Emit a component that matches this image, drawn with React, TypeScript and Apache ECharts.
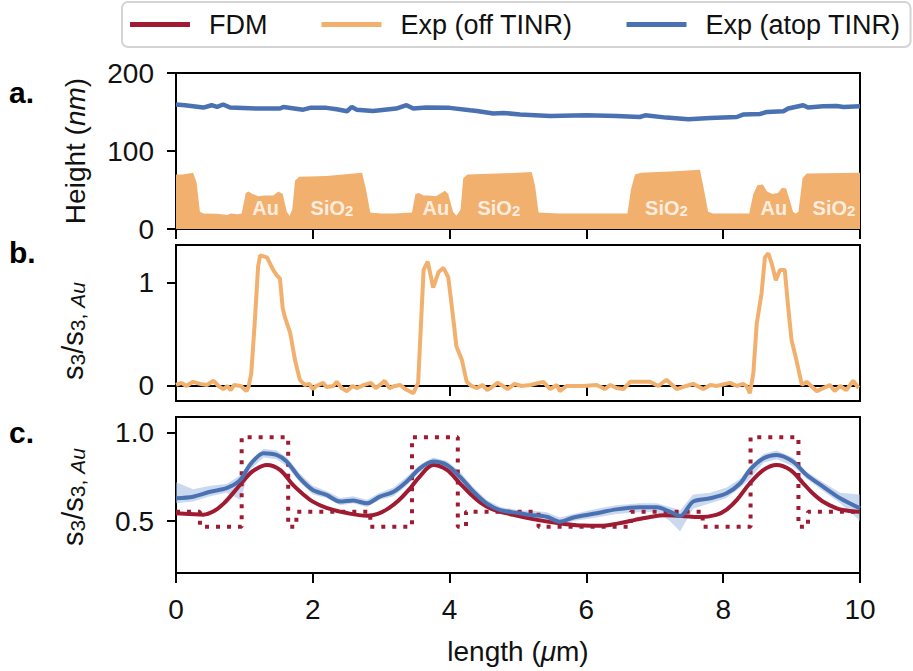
import React, { useEffect, useRef } from "react";
import * as echarts from "echarts";

const FONT = '"Liberation Sans", Arial, sans-serif';

const RED = "#9e1b32";
const ORANGE = "#f2b06e";
const BLUE = "#4a72b2";
const BAND = "rgba(160,185,225,0.55)";

// (a) topography, nm
const heightOff: [number, number][] = [
  [0, 70], [0.1, 70], [0.25, 72], [0.3, 60], [0.35, 22], [0.4, 20], [0.6, 19.5], [0.75, 18], [0.8, 20],
  [0.9, 19], [0.96, 20], [1.02, 46], [1.06, 48], [1.12, 45], [1.2, 42], [1.3, 43], [1.42, 43], [1.5, 48],
  [1.56, 45], [1.62, 22], [1.66, 17], [1.7, 25], [1.74, 62], [1.8, 67], [2.2, 68], [2.72, 72], [2.78, 50],
  [2.84, 21], [3.0, 20], [3.2, 20], [3.45, 21], [3.5, 45], [3.55, 46], [3.62, 43], [3.7, 43], [3.8, 42],
  [3.88, 46], [3.93, 49], [3.98, 45], [4.05, 22], [4.1, 17], [4.16, 25], [4.2, 65], [4.26, 70], [4.7, 71],
  [5.2, 73], [5.25, 55], [5.3, 21], [5.6, 20], [6.0, 20], [6.6, 20], [6.65, 50], [6.71, 70], [6.8, 72],
  [7.3, 74], [7.66, 76], [7.72, 50], [7.78, 22], [7.85, 20], [8.38, 20], [8.44, 45], [8.5, 56], [8.58, 57],
  [8.64, 48], [8.72, 45], [8.8, 46], [8.86, 53], [8.92, 52], [8.98, 35], [9.02, 22], [9.06, 20], [9.1, 22],
  [9.16, 65], [9.22, 71], [10, 72],
];

const heightAtop: [number, number][] = [
  [0.0, 159.6], [0.13, 158.7], [0.4, 155.7], [0.52, 158.7], [0.6, 156.5], [0.69, 159.6], [0.79, 155.7],
  [1.18, 154.4], [1.52, 154.4], [1.57, 156.5], [1.86, 153], [1.96, 155.3], [2.2, 155.3], [2.35, 153.5],
  [2.5, 151], [2.57, 156.5], [2.64, 153], [2.88, 151.4], [3.22, 154.4], [3.37, 158.7], [3.47, 154.4],
  [3.66, 155.7], [4.0, 155.3], [4.3, 152.3], [4.4, 151.4], [4.64, 148], [4.79, 148.8], [5.03, 146.7],
  [5.25, 145.8], [5.47, 144.9], [6.0, 145.8], [6.44, 144.9], [6.78, 143.6], [6.86, 145.8], [7.17, 142.8],
  [7.49, 140.6], [7.81, 142.4], [8.2, 143.6], [8.29, 146.7], [8.54, 147.5], [8.64, 150.1], [8.88, 151],
  [8.95, 154.4], [9.17, 158.7], [9.24, 155.7], [9.46, 157.4], [9.66, 157.8], [9.76, 156.5], [10.0, 157.4],
];

// material tags in panel (a): [x, height, name]
const materials: [number, number, string][] = [
  [1.31, 27, "Au"], [2.28, 27, "SiO2"], [3.8, 27, "Au"], [4.72, 27, "SiO2"],
  [7.17, 27, "SiO2"], [8.74, 27, "Au"], [9.62, 27, "SiO2"],
];

// (b) normalised signal off TINR
const signalOff: [number, number][] = [
  [0.0, 0.01], [0.08, 0.03], [0.15, 0.0], [0.25, 0.04], [0.35, 0.02], [0.45, 0.01], [0.55, 0.05], [0.62, 0.0],
  [0.69, -0.03], [0.75, 0.0], [0.8, -0.04], [0.85, 0.01], [0.95, 0.0], [1.03, -0.05], [1.06, -0.01],
  [1.1, 0.12], [1.15, 0.6], [1.2, 1.15], [1.23, 1.26], [1.33, 1.24], [1.42, 1.12], [1.47, 1.07],
  [1.52, 1.035], [1.56, 0.75], [1.59, 0.67], [1.67, 0.51], [1.74, 0.25], [1.81, 0.06], [1.88, 0.01],
  [1.95, 0.02], [2.0, -0.03], [2.05, 0.0], [2.15, 0.03], [2.2, -0.01], [2.3, 0.0], [2.35, 0.04],
  [2.42, -0.02], [2.5, -0.05], [2.58, 0.0], [2.65, -0.02], [2.75, 0.01], [2.85, 0.03], [2.92, -0.02],
  [3.0, 0.02], [3.05, 0.05], [3.12, -0.02], [3.2, 0.0], [3.28, 0.01], [3.35, -0.03], [3.47, -0.07],
  [3.54, 0.03], [3.62, 1.12], [3.68, 1.2], [3.76, 0.95], [3.84, 1.1], [3.91, 1.14], [3.98, 1.05],
  [4.05, 0.67], [4.1, 0.38], [4.18, 0.25], [4.25, 0.04], [4.32, 0.0], [4.4, -0.02], [4.48, 0.01],
  [4.55, -0.04], [4.62, -0.01], [4.7, 0.03], [4.78, 0.0], [4.85, -0.03], [4.95, 0.02], [5.05, 0.0],
  [5.18, 0.01], [5.37, 0.04], [5.47, -0.03], [5.57, 0.01], [5.61, -0.05], [5.71, 0.0], [5.95, 0.0],
  [6.15, 0.01], [6.27, -0.03], [6.35, 0.01], [6.44, -0.02], [6.54, -0.03], [6.64, 0.04], [6.78, 0.04],
  [6.93, 0.04], [7.05, 0.0], [7.17, 0.06], [7.32, -0.03], [7.46, 0.0], [7.56, 0.02], [7.71, -0.03],
  [7.81, 0.01], [7.9, 0.0], [8.1, 0.03], [8.2, 0.0], [8.29, 0.02], [8.34, 0.0], [8.39, -0.07],
  [8.44, 0.12], [8.49, 0.6], [8.56, 0.89], [8.61, 1.24], [8.66, 1.28], [8.71, 1.18], [8.77, 1.02],
  [8.83, 1.12], [8.9, 1.12], [8.95, 0.76], [9.0, 0.44], [9.07, 0.25], [9.15, 0.01], [9.22, 0.04],
  [9.37, -0.05], [9.56, 0.01], [9.63, -0.05], [9.71, 0.0], [9.8, -0.04], [9.9, 0.05], [9.98, -0.02],
];

// (c) FDM model profile: [from, to, value]
const fdmSteps: [number, number, number][] = [
  [0, 0.35, 0.553], [0.35, 0.96, 0.468], [0.96, 1.64, 0.975], [1.64, 1.76, 0.468], [1.76, 2.84, 0.553],
  [2.84, 3.45, 0.468], [3.45, 4.12, 0.975], [4.12, 4.24, 0.468], [4.24, 5.3, 0.553], [5.3, 6.65, 0.468],
  [6.65, 7.7, 0.553], [7.7, 8.4, 0.468], [8.4, 9.1, 0.975], [9.1, 9.24, 0.468], [9.24, 10, 0.553],
];

const fdmCurve: [number, number][] = [
  [0.0, 0.544], [0.2, 0.54], [0.4, 0.536], [0.55, 0.555], [0.7, 0.6], [0.85, 0.665], [1.0, 0.735],
  [1.13, 0.785], [1.33, 0.818], [1.52, 0.79], [1.71, 0.705], [1.85, 0.655], [2.0, 0.61], [2.2, 0.575],
  [2.5, 0.545], [2.79, 0.53], [2.95, 0.54], [3.1, 0.57], [3.25, 0.615], [3.4, 0.675], [3.57, 0.755],
  [3.76, 0.818], [3.96, 0.79], [4.15, 0.714], [4.3, 0.655], [4.45, 0.605], [4.64, 0.565], [4.93, 0.535],
  [5.2, 0.512], [5.45, 0.495], [5.7, 0.482], [5.95, 0.474], [6.2, 0.473], [6.45, 0.485], [6.7, 0.505],
  [6.95, 0.524], [7.15, 0.532], [7.4, 0.528], [7.65, 0.522], [7.9, 0.535], [8.05, 0.565], [8.2, 0.62],
  [8.39, 0.714], [8.59, 0.79], [8.78, 0.818], [8.98, 0.79], [9.17, 0.714], [9.3, 0.66], [9.45, 0.612],
  [9.66, 0.572], [9.85, 0.557], [10.0, 0.553],
];

// (c) measured atop TINR: x, mean, low, high
const atopX = [
  0.0, 0.25, 0.5, 0.74, 0.94, 1.08, 1.28, 1.47, 1.62, 1.81, 2.0, 2.2, 2.4, 2.59, 2.79, 2.98, 3.18, 3.37,
  3.57, 3.76, 3.96, 4.15, 4.35, 4.54, 4.74, 5.03, 5.18, 5.42, 5.61, 5.81, 6.15, 6.44, 6.78, 7.03, 7.22,
  7.37, 7.56, 7.81, 8.05, 8.25, 8.39, 8.59, 8.78, 9.02, 9.22, 9.46, 9.71, 10.0,
];
const atopMean = [
  0.629, 0.638, 0.666, 0.686, 0.733, 0.818, 0.885, 0.875, 0.837, 0.743, 0.676, 0.648, 0.61, 0.616, 0.6,
  0.638, 0.666, 0.723, 0.8, 0.837, 0.818, 0.752, 0.666, 0.6, 0.562, 0.544, 0.534, 0.524, 0.496, 0.52,
  0.544, 0.566, 0.578, 0.578, 0.553, 0.528, 0.61, 0.629, 0.657, 0.714, 0.79, 0.856, 0.875, 0.837, 0.761,
  0.695, 0.629, 0.572,
];
const atopLow = [
  0.6, 0.61, 0.64, 0.66, 0.62, 0.79, 0.86, 0.85, 0.81, 0.72, 0.65, 0.63, 0.59, 0.6, 0.58, 0.62, 0.64, 0.7,
  0.78, 0.81, 0.79, 0.73, 0.64, 0.58, 0.54, 0.52, 0.51, 0.5, 0.47, 0.5, 0.52, 0.54, 0.55, 0.55, 0.5, 0.44,
  0.57, 0.6, 0.63, 0.69, 0.74, 0.83, 0.85, 0.81, 0.74, 0.67, 0.6, 0.5,
];
const atopHigh = [
  0.72, 0.68, 0.7, 0.71, 0.76, 0.84, 0.91, 0.9, 0.86, 0.77, 0.7, 0.67, 0.63, 0.64, 0.62, 0.66, 0.69, 0.75,
  0.82, 0.86, 0.84, 0.78, 0.69, 0.62, 0.58, 0.56, 0.56, 0.55, 0.52, 0.54, 0.57, 0.59, 0.6, 0.6, 0.58,
  0.56, 0.65, 0.66, 0.69, 0.74, 0.81, 0.88, 0.9, 0.86, 0.78, 0.72, 0.66, 0.65,
];

const GRID_LEFT = 176;
const GRID_RIGHT = 53;
const PANEL_H = 156;
const PANEL_TOPS = [73, 245, 417];

function App() {
  const ref = useRef<HTMLDivElement>(null);

  useEffect(() => {
    if (!ref.current) return;
    const chart = echarts.init(ref.current, undefined, { renderer: "svg" });

    const stepPoints: [number, number][] = [];
    fdmSteps.forEach(([a, b, v]) => {
      stepPoints.push([a, v], [b, v]);
    });

    const bandRows = atopX.map((x, i) => [x, atopLow[i], atopHigh[i]]);
    const atopLine = atopX.map((x, i) => [x, atopMean[i]]);

    const tickLabel = { fontFamily: FONT, fontSize: 28, color: "#111" };

    const xAxisBase = (gridIndex: number, labels: boolean) => ({
      type: "value",
      gridIndex,
      min: 0,
      max: 10,
      interval: 2,
      axisLine: { show: true, lineStyle: { color: "#000", width: 2 } },
      axisTick: { show: true, length: 10, lineStyle: { color: "#000", width: 2 } },
      axisLabel: { show: labels, margin: 22, ...tickLabel },
      splitLine: { show: false },
    });

    const yAxisBase = (gridIndex: number, min: number, max: number, ticks: number[], fmt: (v: number) => string) => ({
      type: "value",
      gridIndex,
      min,
      max,
      axisLine: { show: true, lineStyle: { color: "#000", width: 2 } },
      axisTick: { show: true, length: 9, customValues: ticks, lineStyle: { color: "#000", width: 2 } },
      axisLabel: { show: true, margin: 22, customValues: ticks, formatter: fmt, ...tickLabel },
      splitLine: { show: false },
    });

    const ylabelRich = {
      n: { fontFamily: FONT, fontSize: 29, color: "#111", verticalAlign: "middle" },
      s: { fontFamily: FONT, fontSize: 21, color: "#111", verticalAlign: "bottom" },
      si: { fontFamily: FONT, fontSize: 21, color: "#111", fontStyle: "italic", verticalAlign: "bottom" },
      it: { fontFamily: FONT, fontSize: 28, color: "#111", fontStyle: "italic", verticalAlign: "middle" },
    };

    const rotated = (x: number, y: number, text: string) => ({
      type: "text",
      x,
      y,
      rotation: Math.PI / 2,
      style: {
        text,
        align: "center",
        verticalAlign: "middle",
        fontFamily: FONT,
        fontSize: 28,
        fill: "#111",
        rich: ylabelRich,
      },
    });

    const panelTag = (y: number, t: string) => ({
      type: "text",
      x: 9,
      y,
      style: { text: t, fontFamily: FONT, fontSize: 30, fontWeight: "bold", fill: "#000", verticalAlign: "middle" },
    });

    chart.setOption({
      animation: false,
      backgroundColor: "#fff",
      legend: {
        left: 122,
        top: 2,
        data: ["FDM", "Exp (off TINR)", "Exp (atop TINR)"],
        icon: "rect",
        itemWidth: 60,
        itemHeight: 5,
        itemGap: 54,
        padding: [9, 10, 9, 8],
        backgroundColor: "#fff",
        borderColor: "#d4d4d4",
        borderWidth: 2,
        borderRadius: 6,
        textStyle: { fontFamily: FONT, fontSize: 27, color: "#111", padding: [0, 0, 0, 14] },
      },
      grid: PANEL_TOPS.map((top) => ({
        left: GRID_LEFT,
        right: GRID_RIGHT,
        top,
        height: PANEL_H,
        show: true,
        borderColor: "#000",
        borderWidth: 2,
        backgroundColor: "transparent",
      })),
      xAxis: [xAxisBase(0, false), xAxisBase(1, false), xAxisBase(2, true)],
      yAxis: [
        yAxisBase(0, 0, 200, [0, 100, 200], (v) => String(v)),
        yAxisBase(1, -0.145, 1.36, [0, 1], (v) => String(v)),
        yAxisBase(2, 0.205, 1.09, [0.5, 1.0], (v) => v.toFixed(1)),
      ],
      graphic: [
        panelTag(92, "a."),
        panelTag(252, "b."),
        panelTag(432, "c."),
        rotated(75, 151, "Height ({it|nm})"),
        rotated(73, 331, "{n|s}{s|3}{n|/s}{s|3, }{si|Au}"),
        rotated(73, 497, "{n|s}{s|3}{n|/s}{s|3, }{si|Au}"),
        {
          type: "text",
          x: GRID_LEFT + (913 - GRID_LEFT - GRID_RIGHT) / 2,
          y: 651,
          style: {
            text: "length ({it|μ}m)",
            align: "center",
            verticalAlign: "middle",
            fontFamily: FONT,
            fontSize: 28,
            fill: "#111",
            rich: ylabelRich,
          },
        },
      ],
      series: [
        {
          name: "Exp (off TINR)",
          type: "line",
          xAxisIndex: 0,
          yAxisIndex: 0,
          data: heightOff,
          showSymbol: false,
          lineStyle: { width: 0 },
          itemStyle: { color: ORANGE },
          areaStyle: { color: ORANGE, opacity: 1 },
          z: 2,
        },
        {
          name: "Exp (atop TINR)",
          type: "line",
          xAxisIndex: 0,
          yAxisIndex: 0,
          data: heightAtop,
          showSymbol: false,
          lineStyle: { width: 4.5, color: BLUE },
          itemStyle: { color: BLUE },
          z: 3,
        },
        {
          name: "materials",
          type: "scatter",
          xAxisIndex: 0,
          yAxisIndex: 0,
          data: materials,
          symbolSize: 0,
          silent: true,
          z: 4,
          label: {
            show: true,
            position: "inside",
            formatter: (p: any) => (p.data[2] === "SiO2" ? "SiO{sub|2}" : p.data[2]),
            fontFamily: FONT,
            fontSize: 20,
            fontWeight: "bold",
            color: "#fff",
            rich: {
              sub: { fontFamily: FONT, fontSize: 15, fontWeight: "bold", color: "#fff", verticalAlign: "bottom" },
            },
          },
        },
        {
          name: "Exp (off TINR)",
          type: "line",
          xAxisIndex: 1,
          yAxisIndex: 1,
          data: signalOff,
          showSymbol: false,
          lineStyle: { width: 4, color: ORANGE },
          itemStyle: { color: ORANGE },
        },
        {
          name: "atop spread",
          type: "custom",
          xAxisIndex: 2,
          yAxisIndex: 2,
          data: bandRows,
          encode: { x: 0, y: [1, 2] },
          silent: true,
          z: 1,
          renderItem: (params: any, api: any) => {
            if (params.dataIndex !== 0) return null;
            const top = bandRows.map((r) => api.coord([r[0], r[2]]));
            const bottom = bandRows.map((r) => api.coord([r[0], r[1]])).reverse();
            return {
              type: "polygon",
              shape: { points: top.concat(bottom) },
              style: { fill: BAND },
            };
          },
        },
        {
          name: "FDM profile",
          type: "line",
          xAxisIndex: 2,
          yAxisIndex: 2,
          data: stepPoints,
          showSymbol: false,
          lineStyle: { width: 4, color: RED, type: [4, 7] },
          itemStyle: { color: RED },
          z: 2,
        },
        {
          name: "FDM",
          type: "line",
          xAxisIndex: 2,
          yAxisIndex: 2,
          data: fdmCurve,
          smooth: 0.35,
          showSymbol: false,
          lineStyle: { width: 4, color: RED },
          itemStyle: { color: RED },
          z: 3,
        },
        {
          name: "Exp (atop TINR)",
          type: "line",
          xAxisIndex: 2,
          yAxisIndex: 2,
          data: atopLine,
          smooth: 0.3,
          showSymbol: false,
          lineStyle: { width: 4, color: BLUE },
          itemStyle: { color: BLUE },
          z: 4,
        },
      ],
    });

    return () => chart.dispose();
  }, []);

  return <div ref={ref} style={{ width: 913, height: 671, position: "absolute", left: 0, top: 0 }} />;
}

export default App;
